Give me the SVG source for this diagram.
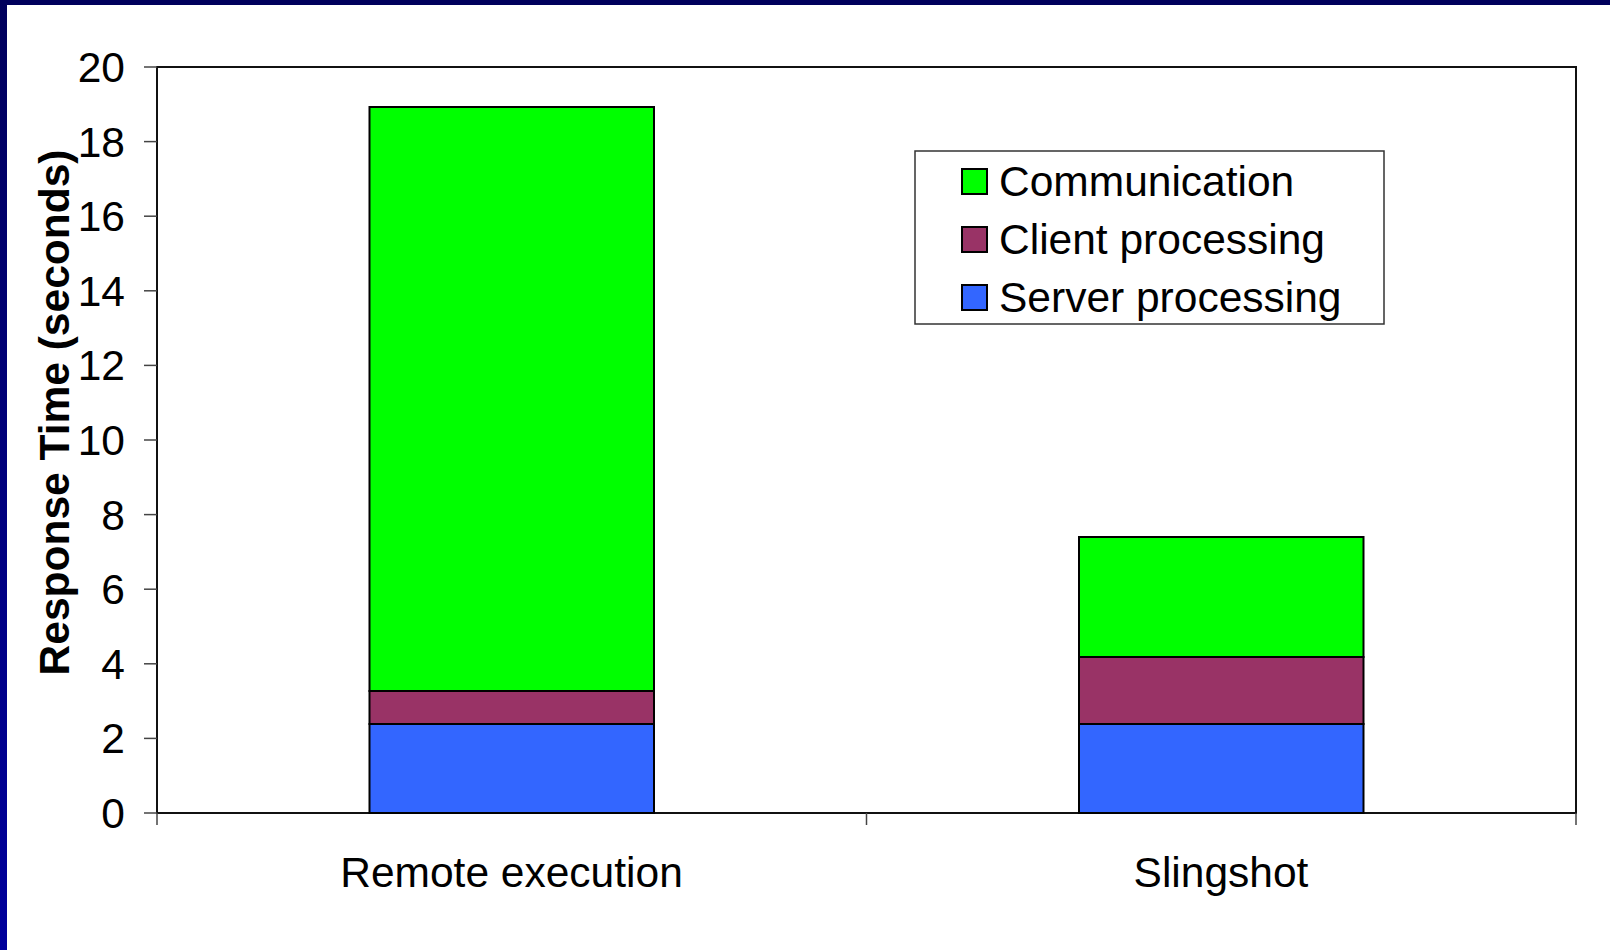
<svg xmlns="http://www.w3.org/2000/svg" width="1610" height="950" viewBox="0 0 1610 950">
<defs>
<linearGradient id="lg" x1="0" y1="0" x2="0" y2="1">
<stop offset="0" stop-color="#00005c"/>
<stop offset="1" stop-color="#00009c"/>
</linearGradient>
<style>
.t{font-family:"Liberation Sans",Arial,sans-serif;font-size:42.5px;fill:#000}
.yl{text-anchor:end}
.tk{stroke:#444;stroke-width:1.5}
.bar{stroke:#000;stroke-width:2}
.comm{fill:#00ff00}
.cli{fill:#993366}
.srv{fill:#3366ff}
</style>
</defs>
<rect width="1610" height="950" fill="#fff"/>
<rect x="0" y="0" width="1610" height="5" fill="#00005c"/>
<rect x="0" y="0" width="7" height="950" fill="url(#lg)"/>
<g id="axes">
<rect x="157" y="67" width="1419" height="746" fill="none" stroke="#111" stroke-width="2"/>
<g class="tk">
<line x1="144" y1="67" x2="157" y2="67"/>
<line x1="144" y1="141.6" x2="157" y2="141.6"/>
<line x1="144" y1="216.2" x2="157" y2="216.2"/>
<line x1="144" y1="290.8" x2="157" y2="290.8"/>
<line x1="144" y1="365.4" x2="157" y2="365.4"/>
<line x1="144" y1="440" x2="157" y2="440"/>
<line x1="144" y1="514.6" x2="157" y2="514.6"/>
<line x1="144" y1="589.2" x2="157" y2="589.2"/>
<line x1="144" y1="663.8" x2="157" y2="663.8"/>
<line x1="144" y1="738.4" x2="157" y2="738.4"/>
<line x1="144" y1="813" x2="157" y2="813"/>
<line x1="157" y1="813" x2="157" y2="825"/>
<line x1="866.5" y1="813" x2="866.5" y2="825"/>
<line x1="1576" y1="813" x2="1576" y2="825"/>
</g>
<g class="t yl">
<text x="125" y="82">20</text>
<text x="125" y="156.6">18</text>
<text x="125" y="231.2">16</text>
<text x="125" y="305.8">14</text>
<text x="125" y="380.4">12</text>
<text x="125" y="455">10</text>
<text x="125" y="529.6">8</text>
<text x="125" y="604.2">6</text>
<text x="125" y="678.8">4</text>
<text x="125" y="753.4">2</text>
<text x="125" y="828">0</text>
</g>
<text class="t" x="0" y="0" transform="translate(69,412.5) rotate(-90)" text-anchor="middle" font-weight="bold" font-size="41.3">Response Time (seconds)</text>
<text class="t" x="511.5" y="887" text-anchor="middle">Remote execution</text>
<text class="t" x="1221" y="887" text-anchor="middle">Slingshot</text>
</g>
<g id="bar-remote">
<rect class="bar srv" x="369.5" y="724" width="284.5" height="89"/>
<rect class="bar cli" x="369.5" y="691" width="284.5" height="33"/>
<rect class="bar comm" x="369.5" y="107" width="284.5" height="584"/>
</g>
<g id="bar-slingshot">
<rect class="bar srv" x="1079" y="724" width="284.5" height="89"/>
<rect class="bar cli" x="1079" y="657" width="284.5" height="67"/>
<rect class="bar comm" x="1079" y="537" width="284.5" height="120"/>
</g>
<g id="legend">
<rect x="915" y="151" width="469" height="173" fill="#fff" stroke="#333" stroke-width="1.5"/>
<rect class="bar comm" x="962" y="169" width="25" height="25"/>
<rect class="bar cli" x="962" y="227" width="25" height="25"/>
<rect class="bar srv" x="962" y="285" width="25" height="25"/>
<text class="t" x="999" y="196">Communication</text>
<text class="t" x="999" y="254">Client processing</text>
<text class="t" x="999" y="312">Server processing</text>
</g>
</svg>
